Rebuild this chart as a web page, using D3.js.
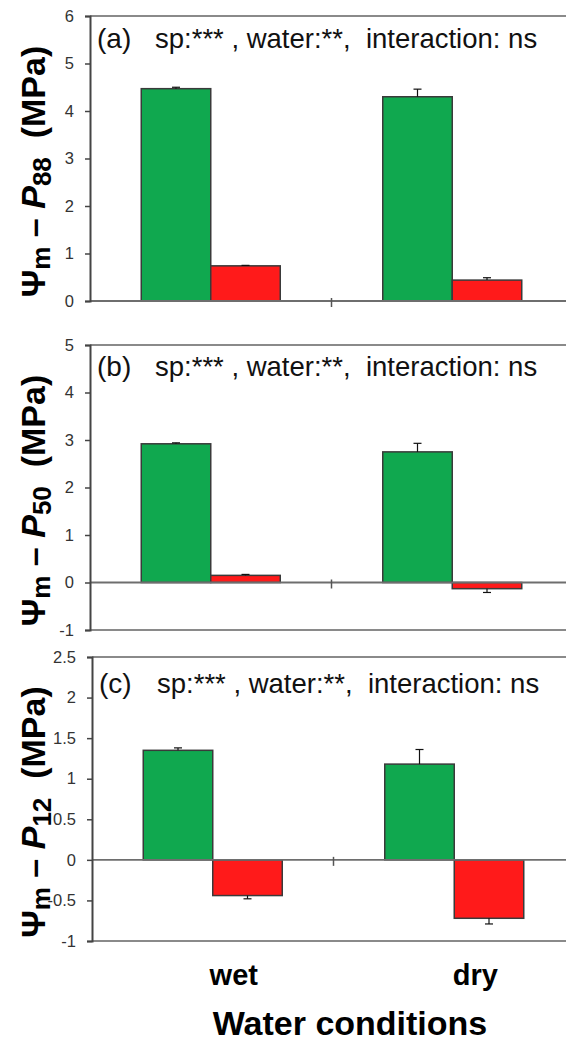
<!DOCTYPE html>
<html>
<head>
<meta charset="utf-8">
<script src="https://cdn.jsdelivr.net/npm/d3@7"></script>
<style>
  html, body { margin: 0; padding: 0; background: #fff; }
  svg { display: block; }
  text { font-family: "Liberation Sans", Arial, sans-serif; }
</style>
</head>
<body>
<svg id="chart" width="566" height="1041"></svg>
<script>
// ---------------- data ----------------
const categories = ["wet", "dry"];
const seriesNames = ["species 1", "species 2"];
const seriesColors = ["#10a84f", "#ff1a1a"];

// panel (a): Ψm − P88
const aGreen = [4.47, 4.30];
const aGreenErr = [0.03, 0.16];
const aRed = [0.74, 0.44];
const aRedErr = [0.01, 0.05];
const aTicks = [0, 1, 2, 3, 4, 5, 6];

// panel (b): Ψm − P50
const bGreen = [2.92, 2.75];
const bGreenErr = [0.02, 0.18];
const bRed = [0.15, -0.13];
const bRedErr = [0.02, 0.08];
const bTicks = [-1, 0, 1, 2, 3, 4, 5];

// panel (c): Ψm − P12
const cGreen = [1.35, 1.18];
const cGreenErr = [0.03, 0.18];
const cRed = [-0.44, -0.72];
const cRedErr = [0.04, 0.07];
const cTicks = [-1, -0.5, 0, 0.5, 1, 1.5, 2, 2.5];

const panelLetters = ["(a)", "(b)", "(c)"];
const panelSubs = ["88", "50", "12"];
const statsText = "sp:*** , water:**,  interaction: ns";
const xTitle = "Water conditions";

// ---------------- layout ----------------
const panels = [
  { letter: panelLetters[0], sub: panelSubs[0], green: aGreen, gErr: aGreenErr, red: aRed, rErr: aRedErr, ticks: aTicks,
    top: 16, bottom: 301, axisX: 90, textDy: 32 },
  { letter: panelLetters[1], sub: panelSubs[1], green: bGreen, gErr: bGreenErr, red: bRed, rErr: bRedErr, ticks: bTicks,
    top: 345, bottom: 630, axisX: 90, textDy: 31 },
  { letter: panelLetters[2], sub: panelSubs[2], green: cGreen, gErr: cGreenErr, red: cRed, rErr: cRedErr, ticks: cTicks,
    top: 657, bottom: 941, axisX: 92, textDy: 36 }
];

const svg = d3.select("#chart");
const W = 566;
const groupSpan = 483;
const barW = 69.5;

panels.forEach((p, pi) => {
  const g = svg.append("g");
  const ext = d3.extent(p.ticks);
  const y = d3.scaleLinear().domain(ext).range([p.bottom, p.top]);
  const x = d3.scaleBand().domain(categories).range([p.axisX, p.axisX + groupSpan]).padding(0);
  const xs = d3.scaleBand().domain(seriesNames)
      .range([x.bandwidth() / 2 - barW, x.bandwidth() / 2 + barW]).padding(0);

  // frame: top line
  g.append("line").attr("x1", p.axisX).attr("x2", W).attr("y1", p.top).attr("y2", p.top)
    .attr("stroke", "#8a8a8a").attr("stroke-width", 2);
  // bottom line (when min < 0)
  if (ext[0] < 0) {
    g.append("line").attr("x1", p.axisX).attr("x2", W).attr("y1", p.bottom).attr("y2", p.bottom)
      .attr("stroke", "#8a8a8a").attr("stroke-width", 2);
  }

  // bars
  const rows = [];
  categories.forEach((c, i) => {
    rows.push({ cat: c, s: seriesNames[0], v: p.green[i], e: p.gErr[i], col: seriesColors[0] });
    rows.push({ cat: c, s: seriesNames[1], v: p.red[i], e: p.rErr[i], col: seriesColors[1] });
  });
  g.selectAll("rect.bar").data(rows).join("rect").attr("class", "bar")
    .attr("x", d => x(d.cat) + xs(d.s))
    .attr("width", xs.bandwidth())
    .attr("y", d => y(Math.max(0, d.v)))
    .attr("height", d => Math.abs(y(d.v) - y(0)))
    .attr("fill", d => d.col)
    .attr("stroke", "#3a3a3a").attr("stroke-width", 1.5);

  // error bars (away from zero)
  rows.forEach(d => {
    const cx = x(d.cat) + xs(d.s) + xs.bandwidth() / 2;
    const end = d.v >= 0 ? d.v + d.e : d.v - d.e;
    g.append("line").attr("x1", cx).attr("x2", cx).attr("y1", y(d.v)).attr("y2", y(end))
      .attr("stroke", "#111").attr("stroke-width", 1.2);
    g.append("line").attr("x1", cx - 4).attr("x2", cx + 4).attr("y1", y(end)).attr("y2", y(end))
      .attr("stroke", "#111").attr("stroke-width", 1.2);
  });

  // zero line
  g.append("line").attr("x1", p.axisX).attr("x2", W).attr("y1", y(0)).attr("y2", y(0))
    .attr("stroke", "#6e6e6e").attr("stroke-width", 1.8);
  // category separator tick
  const sepX = x(categories[1]);
  g.append("line").attr("x1", sepX).attr("x2", sepX).attr("y1", y(0) - 3).attr("y2", y(0) + 6)
    .attr("stroke", "#555").attr("stroke-width", 1.5);

  // y axis
  const axis = d3.axisLeft(y).tickValues(p.ticks).tickSize(5).tickPadding(11)
      .tickFormat(d => String(d));
  const ag = g.append("g").attr("transform", `translate(${p.axisX},0)`).call(axis);
  ag.select(".domain").attr("stroke", "#444").attr("stroke-width", 2);
  ag.selectAll(".tick line").attr("stroke", "#444").attr("stroke-width", 1.5);
  ag.selectAll(".tick text").attr("font-size", 16.5).attr("fill", "#333")
    .attr("font-family", "Liberation Sans, Arial, sans-serif");

  // annotation
  g.append("text").attr("x", p.axisX + 7).attr("y", p.top + p.textDy)
    .attr("font-size", 28).attr("fill", "#111").text(p.letter);
  g.append("text").attr("x", p.axisX + 65).attr("y", p.top + p.textDy)
    .attr("font-size", 27.5).attr("fill", "#111").attr("xml:space", "preserve")
    .style("white-space", "pre").text(statsText);

  // y title
  const cy = (p.top + p.bottom) / 2 + 13;
  const t = g.append("text")
    .attr("transform", `translate(45,${cy}) rotate(-90)`)
    .attr("text-anchor", "middle")
    .attr("font-size", 34).attr("font-weight", "bold").attr("fill", "#000")
    .style("white-space", "pre");
  t.append("tspan").text("Ψ");
  t.append("tspan").attr("font-size", 26).attr("dy", 5).text("m");
  t.append("tspan").attr("dy", -5).text(" – ");
  t.append("tspan").attr("font-style", "italic").text("P");
  t.append("tspan").attr("font-size", 26).attr("dy", 6).text(p.sub);
  t.append("tspan").attr("dy", -6).text("  (MPa)");

  // category labels under last panel
  if (pi === panels.length - 1) {
    categories.forEach(c => {
      g.append("text").attr("x", x(c) + x.bandwidth() / 2 + 21).attr("y", 985)
        .attr("text-anchor", "middle").attr("font-size", 29).attr("font-weight", "bold")
        .attr("fill", "#000").text(c);
    });
  }
});

svg.append("text").attr("x", 350).attr("y", 1035).attr("text-anchor", "middle")
  .attr("font-size", 34).attr("font-weight", "bold").attr("fill", "#000").text(xTitle);
</script>
</body>
</html>
